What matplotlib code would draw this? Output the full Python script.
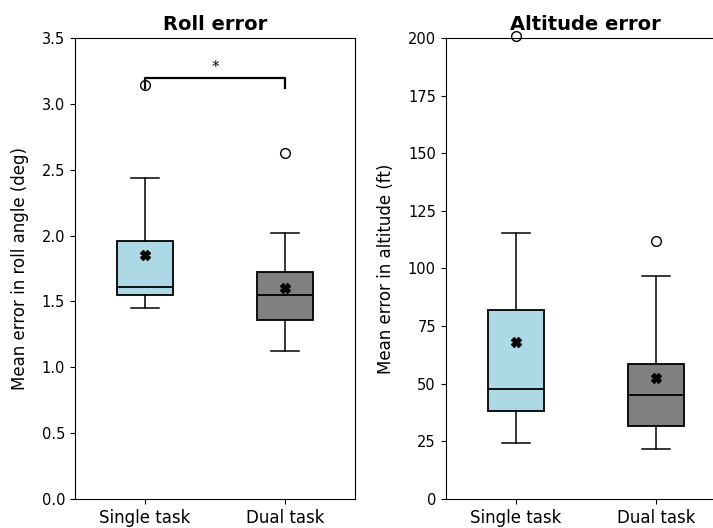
import matplotlib.pyplot as plt
import numpy as np

conditions = ["Single task", "Dual task"]
couleurs = ["lightblue", "grey"]

# Roll error (deg): whisker bas, Q1, médiane, Q3, whisker haut, moyenne, outliers
roll_whislo = [1.45, 1.12]
roll_q1 = [1.55, 1.36]
roll_med = [1.61, 1.55]
roll_q3 = [1.96, 1.72]
roll_whishi = [2.44, 2.02]
roll_mean = [1.85, 1.60]
roll_fliers = [[3.14], [2.63]]

# Altitude error (ft)
alt_whislo = [24.3, 21.7]
alt_q1 = [38.2, 31.7]
alt_med = [47.7, 45.1]
alt_q3 = [82.0, 58.6]
alt_whishi = [115.4, 96.7]
alt_mean = [68.1, 52.5]
alt_fliers = [[201.0], [111.9]]


def stats(whislo, q1, med, q3, whishi, mean, fliers):
    res = []
    for i in range(len(conditions)):
        res.append({"whislo": whislo[i], "q1": q1[i], "med": med[i], "q3": q3[i],
                    "whishi": whishi[i], "mean": mean[i], "fliers": fliers[i],
                    "label": conditions[i]})
    return res


def dessiner(ax, st):
    bp = ax.bxp(st, positions=[1, 2], widths=0.4, patch_artist=True, showmeans=True,
                meanprops=dict(marker="X", markerfacecolor="black", markeredgecolor="black",
                               markersize=7),
                medianprops=dict(color="black", linewidth=1.3),
                flierprops=dict(marker="o", markerfacecolor="white", markeredgecolor="black",
                                markersize=7),
                boxprops=dict(edgecolor="black", linewidth=1.3),
                whiskerprops=dict(linewidth=1.1), capprops=dict(linewidth=1.1))
    for patch, c in zip(bp["boxes"], couleurs):
        patch.set_facecolor(c)
    ax.set_xlim(0.5, 2.5)
    ax.tick_params(axis="x", labelsize=12)
    ax.tick_params(axis="y", labelsize=10.5)
    for fl in bp["fliers"]:
        fl.set_clip_on(False)
    return bp


fig = plt.figure(figsize=(7.13, 5.28), dpi=100)
ax1 = fig.add_axes([0.105, 0.055, 0.393, 0.873])
ax2 = fig.add_axes([0.625, 0.055, 0.393, 0.873])

dessiner(ax1, stats(roll_whislo, roll_q1, roll_med, roll_q3, roll_whishi, roll_mean, roll_fliers))
ax1.set_ylim(0, 3.5)
ax1.set_title("Roll error", fontweight="bold", fontsize=14)
ax1.set_ylabel("Mean error in roll angle (deg)", fontsize=12, labelpad=9)
# significativité
ax1.plot([1, 1, 2, 2], [3.12, 3.2, 3.2, 3.12], color="black", linewidth=1.6)
ax1.text(1.5, 3.22, "*", ha="center", va="bottom", fontsize=11)

dessiner(ax2, stats(alt_whislo, alt_q1, alt_med, alt_q3, alt_whishi, alt_mean, alt_fliers))
ax2.set_ylim(0, 200)
ax2.set_title("Altitude error", fontweight="bold", fontsize=14)
ax2.set_ylabel("Mean error in altitude (ft)", fontsize=12, labelpad=9)

fig.savefig("out.png", dpi=100)
